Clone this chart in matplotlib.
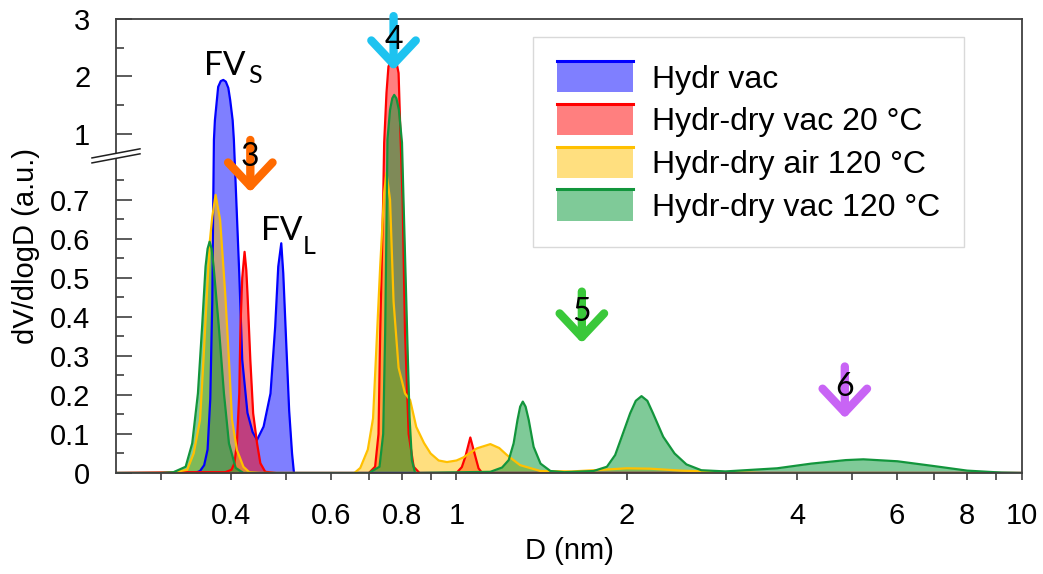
import numpy as np
import matplotlib
matplotlib.use("Agg")
import matplotlib.pyplot as plt
from matplotlib.legend_handler import HandlerBase
from matplotlib.patches import Rectangle, Polygon
from matplotlib.lines import Line2D
from matplotlib.ticker import FixedLocator, NullFormatter

plt.rcParams["font.family"] = ["Liberation Sans", "DejaVu Sans"]

# pore diameter D (nm) and dV/dlogD (a.u.)
D_VAC = [0.25, 0.345, 0.352, 0.358, 0.363, 0.367, 0.370, 0.3715, 0.3725, 0.374, 0.377,
         0.379, 0.383, 0.387, 0.391, 0.395, 0.398, 0.402, 0.404, 0.408, 0.413, 0.418,
         0.427, 0.436, 0.444, 0.456, 0.469, 0.478, 0.484, 0.490, 0.494, 0.500, 0.506,
         0.512, 0.516, 10]
V_VAC = [0, 0, 0.005, 0.02, 0.06, 0.19, 0.44, 0.70, 0.90, 1.24, 1.59,
         1.82, 1.92, 1.94, 1.91, 1.80, 1.59, 1.24, 0.90, 0.70, 0.51, 0.29,
         0.154, 0.105, 0.085, 0.119, 0.204, 0.375, 0.529, 0.589, 0.512, 0.333, 0.16,
         0.05, 0, 0]

D_VAC20 = [0.25, 0.33, 0.39, 0.400, 0.405, 0.409, 0.413, 0.415, 0.418, 0.422, 0.425,
           0.427, 0.432, 0.437, 0.444, 0.450, 0.459, 0.48, 0.70, 0.718, 0.728, 0.733,
           0.742, 0.745, 0.752, 0.758, 0.767, 0.774, 0.782, 0.790, 0.796, 0.803, 0.811,
           0.823, 0.840, 0.86, 1.00, 1.022, 1.037, 1.058, 1.080, 1.094, 1.11, 10]
V_VAC20 = [0, 0.002, 0.002, 0.008, 0.025, 0.076, 0.204, 0.375, 0.50, 0.567, 0.52,
           0.461, 0.29, 0.153, 0.076, 0.025, 0.003, 0, 0, 0.016, 0.10, 0.36,
           0.70, 0.85, 1.71, 2.17, 2.30, 2.32, 2.28, 2.06, 1.0, 0.70, 0.36,
           0.10, 0.016, 0, 0, 0.015, 0.042, 0.091, 0.042, 0.012, 0, 0]

D_AIR120 = [0.25, 0.31, 0.334, 0.343, 0.352, 0.357, 0.362, 0.366, 0.370, 0.375, 0.382,
            0.390, 0.396, 0.401, 0.409, 0.420, 0.43, 0.45, 0.66, 0.676, 0.697, 0.712,
            0.719, 0.733, 0.745, 0.752, 0.763, 0.774, 0.790, 0.811, 0.828, 0.849, 0.876,
            0.90, 0.93, 0.962, 1.00, 1.029, 1.086, 1.148, 1.19, 1.228, 1.296, 1.408,
            1.6, 1.8, 2.0, 2.2, 2.5, 3.0, 3.5, 10]
V_AIR120 = [0, 0, 0.008, 0.05, 0.136, 0.29, 0.46, 0.589, 0.657, 0.713, 0.649,
            0.46, 0.29, 0.136, 0.059, 0.016, 0.002, 0, 0, 0.013, 0.06, 0.14,
            0.27, 0.53, 0.72, 0.77, 0.70, 0.44, 0.27, 0.204, 0.187, 0.118, 0.077,
            0.05, 0.032, 0.028, 0.032, 0.04, 0.063, 0.074, 0.064, 0.046, 0.02, 0.005,
            0.004, 0.008, 0.012, 0.011, 0.006, 0.002, 0, 0]

D_VAC120 = [0.25, 0.30, 0.316, 0.332, 0.341, 0.349, 0.355, 0.360, 0.363, 0.366, 0.369,
            0.372, 0.380, 0.388, 0.396, 0.407, 0.42, 0.70, 0.731, 0.742, 0.748, 0.753,
            0.755, 0.763, 0.770, 0.776, 0.783, 0.791, 0.801, 0.806, 0.818, 0.826, 0.834,
            0.845, 1.148, 1.204, 1.237, 1.262, 1.282, 1.296, 1.310, 1.325, 1.342, 1.369,
            1.408, 1.466, 1.55, 1.747, 1.845, 1.908, 1.96, 2.028, 2.075, 2.124, 2.175,
            2.226, 2.32, 2.43, 2.55, 2.71, 2.99, 3.69, 4.24, 4.88, 5.24, 6.02,
            6.96, 8.0, 9.2, 10]
V_VAC120 = [0, 0, 0.002, 0.016, 0.076, 0.204, 0.375, 0.529, 0.575, 0.593, 0.575,
            0.529, 0.375, 0.204, 0.076, 0.013, 0, 0, 0.016, 0.10, 0.36, 0.70,
            0.90, 1.42, 1.62, 1.68, 1.62, 1.42, 0.85, 0.70, 0.36, 0.144, 0.033,
            0, 0.003, 0.014, 0.033, 0.076, 0.136, 0.170, 0.183, 0.170, 0.136, 0.067,
            0.024, 0.005, 0.002, 0.005, 0.016, 0.046, 0.093, 0.153, 0.185, 0.197, 0.185,
            0.153, 0.093, 0.05, 0.022, 0.007, 0.004, 0.012, 0.024, 0.033, 0.035, 0.03,
            0.018, 0.006, 0.001, 0]

SERIES = [(D_VAC, V_VAC), (D_VAC20, V_VAC20), (D_AIR120, V_AIR120), (D_VAC120, V_VAC120)]
LABELS = ["Hydr vac", "Hydr-dry vac 20 °C", "Hydr-dry air 120 °C", "Hydr-dry vac 120 °C"]
COLORS = ["#0000ff", "#ff0000", "#ffc000", "#009632"]
EDGES = ["#0000ff", "#ff0000", "#ffc000", "#12953c"]

X_TICKS = [0.4, 0.6, 0.8, 1, 2, 4, 6, 8, 10]
X_TICK_LABELS = ["0.4", "0.6", "0.8", "1", "2", "4", "6", "8", "10"]
X_MINOR = [0.3, 0.5, 0.7, 0.9, 3, 5, 7, 9]
Y_TICKS = [0, 0.1, 0.2, 0.3, 0.4, 0.5, 0.6, 0.7, 1, 2, 3]
Y_TICK_LABELS = ["0", "0.1", "0.2", "0.3", "0.4", "0.5", "0.6", "0.7", "1", "2", "3"]
Y_MINOR = [0.05, 0.15, 0.25, 0.35, 0.45, 0.55, 0.65, 0.75, 1.5, 2.5]

# numbered markers: label, D, arrow top, arrow tip, text y, colour
MARKS = [
    ("3", 0.432, 0.896, 0.72, 0.81, "#ff6a00"),
    ("4", 0.774, 3.05, 2.11, 2.63, "#1ec3f0"),
    ("5", 1.666, 0.465, 0.333, 0.414, "#3ac83a"),
    ("6", 4.86, 0.273, 0.14, 0.221, "#c864f5"),
]

# peak names: main text, subscript, D and y of each part
PEAK_NAMES = [
    ("FV", "S", 0.358, 2.02, 0.428, 1.88),
    ("FV", "L", 0.452, 0.597, 0.534, 0.562),
]

# broken y axis: above BREAK the scale is squeezed
BREAK = 0.8466
SQUEEZE = 0.1474


def fwd(y):
    y = np.asarray(y, dtype=float)
    return np.where(y <= BREAK, y, BREAK + (y - BREAK) * SQUEEZE)


def inv(v):
    v = np.asarray(v, dtype=float)
    return np.where(v <= BREAK, v, BREAK + (v - BREAK) / SQUEEZE)


class TopLineHandler(HandlerBase):
    def create_artists(self, legend, orig_handle, xdescent, ydescent, width, height, fontsize, trans):
        rect = Rectangle((-xdescent, -ydescent), width, height, facecolor=orig_handle.get_facecolor(),
                         edgecolor="none", transform=trans)
        top = Line2D([-xdescent, -xdescent + width], [height - ydescent] * 2,
                     color=orig_handle.get_edgecolor(), lw=2.2, transform=trans)
        return [rect, top]


fig, ax = plt.subplots(figsize=(10.43, 5.74), dpi=100)
fig.subplots_adjust(left=0.1112, right=0.9799, bottom=0.176, top=0.9669)

ax.set_xscale("log")
ax.set_yscale("function", functions=(fwd, inv))

handles = []
for (d, v), c, e, lab in zip(SERIES, COLORS, EDGES, LABELS):
    ax.fill_between(d, 0, v, color=c, alpha=0.5, lw=0)
    ax.plot(d, v, color=e, lw=1.6)
    handles.append(Rectangle((0, 0), 1, 1, facecolor=matplotlib.colors.to_rgba(c, 0.5), edgecolor=e))

ax.set_xlim(0.25, 10)
ax.set_ylim(0, 3)

ax.xaxis.set_major_locator(FixedLocator(X_TICKS))
ax.set_xticklabels(X_TICK_LABELS)
ax.xaxis.set_minor_locator(FixedLocator(X_MINOR))
ax.xaxis.set_minor_formatter(NullFormatter())
ax.yaxis.set_major_locator(FixedLocator(Y_TICKS))
ax.set_yticklabels(Y_TICK_LABELS)
ax.yaxis.set_minor_locator(FixedLocator(Y_MINOR))
ax.yaxis.set_minor_formatter(NullFormatter())

spine_c = "#404040"
for s in ax.spines.values():
    s.set_color(spine_c)
    s.set_linewidth(1.3)
ax.tick_params(axis="x", which="both", direction="out", length=5, width=1.2, pad=16,
               labelsize=21, color=spine_c)
ax.tick_params(axis="y", which="major", direction="in", length=11.5, width=1.2, pad=18.5,
               labelsize=21, color=spine_c)
ax.tick_params(axis="y", which="minor", direction="in", length=5.8, width=1.2, color=spine_c)

ax.set_xlabel("D (nm)", fontsize=21)
ax.set_ylabel("dV/dlogD (a.u.)", fontsize=21)
ax.xaxis.set_label_coords(0.5, -0.14)
ax.yaxis.set_label_coords(-0.084, 0.5)

# break mark on the left spine
gap = Polygon([(-0.0265, 0.683), (0.0265, 0.703), (0.0265, 0.714), (-0.0265, 0.694)],
              closed=True, facecolor="white", edgecolor="none", transform=ax.transAxes,
              clip_on=False, zorder=5)
ax.add_patch(gap)
for y0 in (0.683, 0.694):
    ax.plot([-0.0265, 0.0265], [y0, y0 + 0.02], color="#202020", lw=1.1,
            transform=ax.transAxes, clip_on=False, zorder=6)

for num, d, top, tip, ty, c in MARKS:
    ax.annotate("", xy=(d, tip), xytext=(d, top),
                arrowprops=dict(arrowstyle="->,head_length=0.85,head_width=0.8", lw=6, color=c,
                                shrinkA=0, shrinkB=0, mutation_scale=20),
                annotation_clip=False, zorder=7)
    ax.text(d, ty, num, ha="center", va="center", fontsize=23, family=["Lato", "DejaVu Sans"],
            zorder=8)

for name, sub, dx, dy, sx, sy in PEAK_NAMES:
    ax.text(dx, dy, name, fontsize=24, family=["Lato", "DejaVu Sans"], ha="left", va="baseline")
    ax.text(sx, sy, sub, fontsize=18, family=["Lato", "DejaVu Sans"], ha="left", va="baseline")

leg = ax.legend(handles, LABELS, handler_map={Rectangle: TopLineHandler()},
                loc="upper right", bbox_to_anchor=(0.936, 0.960), borderaxespad=0,
                fontsize=23, frameon=True, fancybox=False, framealpha=1,
                handlelength=2.38, handleheight=1.13, labelspacing=0.29, handletextpad=0.6,
                borderpad=0.75)
leg.get_frame().set_edgecolor("#d9d9d9")
leg.get_frame().set_linewidth(1.0)

fig.savefig("out.png", dpi=100)
